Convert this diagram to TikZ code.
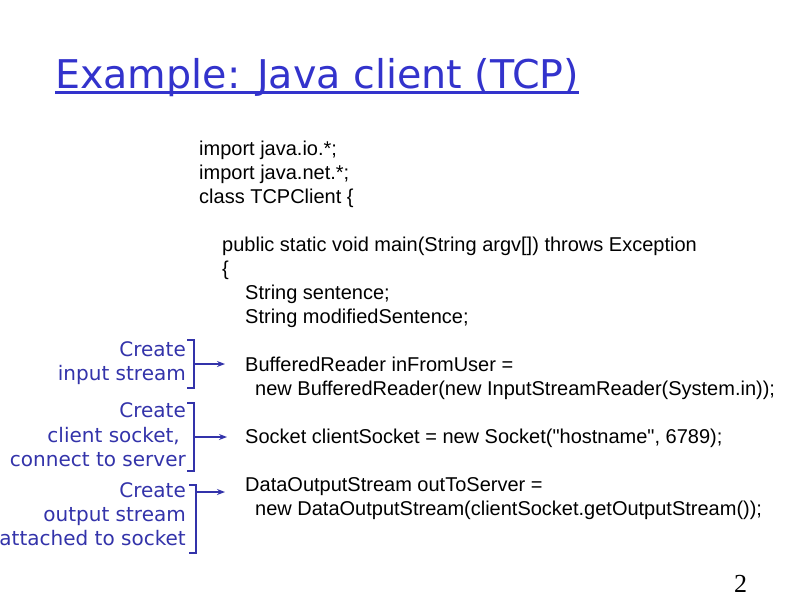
\documentclass[tikz,border=0pt]{standalone}
\usepackage{fontspec}
\setmainfont{Liberation Sans}
\newfontfamily\codefont{Liberation Sans}[Ligatures=ResetAll]
\newfontfamily\dejavu{DejaVu Sans}
\newfontfamily\timesf{Liberation Serif}
\usetikzlibrary{arrows.meta}
\definecolor{slideblue}{RGB}{51,51,204}
\definecolor{labelblue}{RGB}{51,51,170}
\begin{document}
\begin{tikzpicture}[x=1pt,y=-1pt,
  code/.style={anchor=base west,inner sep=0pt,font=\codefont\fontsize{20}{24}\selectfont,text=black},
  lbl/.style={anchor=base east,inner sep=0pt,font=\dejavu\fontsize{20}{24}\selectfont,text=labelblue},
  brack/.style={draw=labelblue,line width=2pt},
  pointer/.style={draw=labelblue,line width=1.6pt,-{Stealth[length=8pt,width=6pt]}}]
\useasboundingbox[fill=white] (0,0) rectangle (800,600);
% title
\node[anchor=base west,inner sep=0pt,font=\dejavu\fontsize{39.6}{48}\selectfont,text=slideblue] (title) at (55,88) {Example: Java client (TCP)};
\draw[slideblue,line width=2.5pt] ([yshift=-4.5pt]title.base west) -- ([yshift=-4.5pt]title.base east);
% code
\node[code] (c1) at (199,155) {import java.io.*;};
\node[code] (c2) at (199,179) {import java.net.*;};
\node[code] (c3) at (199,203) {class TCPClient \{};
\node[code] (c4) at (222,251) {public static void main(String argv[]) throws Exception};
\node[code] (c5) at (222,275) {\{};
\node[code] (c6) at (245,299) {String sentence;};
\node[code] (c7) at (245,323) {String modifiedSentence;};
\node[code] (c8) at (245,371) {BufferedReader inFromUser =};
\node[code] (c9) at (255,395) {new BufferedReader(new InputStreamReader(System.in));};
\node[code] (c10) at (245,443) {Socket clientSocket = new Socket("hostname", 6789);};
\node[code] (c11) at (245,491) {DataOutputStream outToServer =};
\node[code] (c12) at (255,515) {new DataOutputStream(clientSocket.getOutputStream());};
% labels
\node[lbl] (l1a) at (186,356) {Create};
\node[lbl] (l1b) at (186,380) {input stream};
\node[lbl] (l2a) at (186,417) {Create};
\node[lbl] (l2b) at (186,442) {client socket,\hspace*{6pt}};
\node[lbl] (l2c) at (186,466) {connect to server};
\node[lbl] (l3a) at (186,497) {Create};
\node[lbl] (l3b) at (186,521) {output stream};
\node[lbl] (l3c) at (186,545) {attached to socket};
% brackets
\draw[brack] (187,340) -- (194,340) -- (194,388) -- (187,388);
\draw[brack] (187,403) -- (194,403) -- (194,471) -- (187,471);
\draw[brack] (189,485) -- (196,485) -- (196,553) -- (189,553);
\coordinate (b1) at (194,364);
\coordinate (b2) at (194,437);
\coordinate (b3) at (196,492);
\coordinate (t1) at (225,364);
\coordinate (t2) at (227,437);
\coordinate (t3) at (225,492);
\draw[pointer] (b1) -- (t1);
\draw[pointer] (b2) -- (t2);
\draw[pointer] (b3) -- (t3);
% page number
\node[anchor=base west,inner sep=0pt,font=\timesf\fontsize{26}{30}\selectfont] (pg) at (734,592) {2};
\end{tikzpicture}
\end{document}
